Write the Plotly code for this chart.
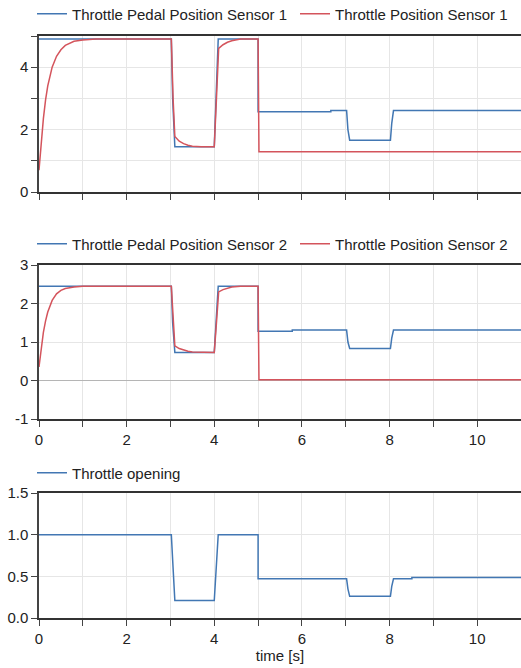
import plotly.graph_objects as go

# ---------------- data ----------------
# Panel 1
t_pps1 = [0, 3.02, 3.05, 3.1, 4.0, 4.05, 4.09, 5.0, 5.0, 6.66, 6.66, 7.02, 7.05, 7.09, 8.02, 8.05, 8.09, 11]
v_pps1 = [4.9, 4.9, 3.0, 1.45, 1.45, 3.2, 4.9, 4.9, 2.57, 2.57, 2.61, 2.61, 2.0, 1.66, 1.66, 2.2, 2.61, 2.61]
t_tps1 = [0, 0.05, 0.1, 0.15, 0.2, 0.3, 0.4, 0.5, 0.6, 0.8, 1.0, 1.3, 3.02, 3.06, 3.1, 3.2, 3.3, 3.4, 3.5, 3.7,
          4.0, 4.05, 4.1, 4.2, 4.3, 4.4, 4.6, 5.0, 5.02, 11]
v_tps1 = [0.7, 1.6, 2.35, 2.95, 3.4, 4.0, 4.35, 4.56, 4.7, 4.83, 4.87, 4.9, 4.9, 3.0, 1.78, 1.63, 1.55, 1.5, 1.47, 1.45,
          1.45, 3.0, 4.6, 4.72, 4.8, 4.85, 4.9, 4.9, 1.29, 1.29]

# Panel 2
t_pps2 = [0, 3.02, 3.05, 3.1, 4.0, 4.05, 4.09, 5.0, 5.0, 5.78, 5.78, 7.02, 7.05, 7.09, 8.02, 8.05, 8.09, 11]
v_pps2 = [2.45, 2.45, 1.5, 0.73, 0.73, 1.6, 2.45, 2.45, 1.28, 1.28, 1.31, 1.31, 1.0, 0.83, 0.83, 1.1, 1.31, 1.31]
t_tps2 = [0, 0.05, 0.1, 0.15, 0.2, 0.3, 0.4, 0.5, 0.6, 0.8, 1.0, 3.02, 3.06, 3.1, 3.2, 3.3, 3.4, 3.5, 3.7,
          4.0, 4.05, 4.1, 4.2, 4.3, 4.4, 4.6, 5.0, 5.02, 11]
v_tps2 = [0.35, 0.85, 1.25, 1.55, 1.78, 2.08, 2.25, 2.34, 2.39, 2.43, 2.45, 2.45, 1.5, 0.9, 0.83, 0.79, 0.76, 0.74, 0.73,
          0.73, 1.5, 2.3, 2.36, 2.4, 2.43, 2.45, 2.45, 0.02, 0.02]

# Panel 3
t_open = [0, 3.02, 3.06, 3.1, 4.0, 4.05, 4.09, 5.0, 5.0, 7.02, 7.05, 7.09, 8.02, 8.05, 8.09, 8.51, 8.51, 11]
v_open = [1.0, 1.0, 0.6, 0.21, 0.21, 0.6, 1.0, 1.0, 0.47, 0.47, 0.35, 0.26, 0.26, 0.38, 0.47, 0.47, 0.485, 0.485]

x_ticks = list(range(0, 12))
x_labels = [str(v) if v % 2 == 0 else "" for v in x_ticks]
y1_ticks = [0, 1, 2, 3, 4, 5]
y1_labels = ["0", "", "2", "", "4", ""]
y2_ticks = [-1, 0, 1, 2, 3]
y2_labels = ["-1", "0", "1", "2", "3"]
y3_ticks = [0, 0.5, 1.0, 1.5]
y3_labels = ["0.0", "0.5", "1.0", "1.5"]

# ---------------- style ----------------
BLUE = "#4277b3"
RED = "#d4545c"
FONT = "Liberation Sans"
W, H = 521, 668
L = 39
PW = W - L

def ydom(top, bottom):
    return [1 - bottom / H, 1 - top / H]

fig = go.Figure()
fig.add_trace(go.Scatter(x=t_pps1, y=v_pps1, mode="lines", name="Throttle Pedal Position Sensor 1",
                         line=dict(color=BLUE, width=1.5), xaxis="x", yaxis="y", legend="legend"))
fig.add_trace(go.Scatter(x=t_tps1, y=v_tps1, mode="lines", name="Throttle Position Sensor 1",
                         line=dict(color=RED, width=1.5), xaxis="x", yaxis="y", legend="legend2"))
fig.add_trace(go.Scatter(x=t_pps2, y=v_pps2, mode="lines", name="Throttle Pedal Position Sensor 2",
                         line=dict(color=BLUE, width=1.5), xaxis="x2", yaxis="y2", legend="legend3"))
fig.add_trace(go.Scatter(x=t_tps2, y=v_tps2, mode="lines", name="Throttle Position Sensor 2",
                         line=dict(color=RED, width=1.5), xaxis="x2", yaxis="y2", legend="legend4"))
fig.add_trace(go.Scatter(x=t_open, y=v_open, mode="lines", name="Throttle opening",
                         line=dict(color=BLUE, width=1.5), xaxis="x3", yaxis="y3", legend="legend5"))

tickfont = dict(family=FONT, size=15, color="#222")
common_x = dict(range=[0, 11], tickvals=x_ticks, ticktext=x_labels, ticks="outside", ticklen=6,
                tickcolor="#444", showline=True, linecolor="#333", linewidth=1.5, mirror=True,
                showgrid=True, gridcolor="#e6e6e6", gridwidth=1, zeroline=False, tickfont=tickfont,
                domain=[0, 1], fixedrange=True, automargin=False)
common_y = dict(ticks="outside", ticklen=6, tickcolor="#444", showline=True, linecolor="#444",
                linewidth=1.5, showgrid=True, gridcolor="#e6e6e6", gridwidth=1, tickfont=tickfont,
                zeroline=False, fixedrange=True, automargin=False)

legfont = dict(family=FONT, size=15, color="#222")
def leg(xpx, ycen):
    return dict(orientation="h", x=(xpx - 7 - L) / PW, xanchor="left", y=1 - ycen / H, yanchor="middle",
                font=legfont, bgcolor="rgba(0,0,0,0)", borderwidth=0, itemwidth=30, visible=True)

fig.update_layout(
    width=W, height=H,
    showlegend=True,
    margin=dict(l=L, r=0, t=0, b=0, autoexpand=False),
    paper_bgcolor="white", plot_bgcolor="white",
    font=dict(family=FONT, size=15, color="#222"),
    xaxis=dict(**common_x, anchor="y", showticklabels=False),
    yaxis=dict(**common_y, anchor="x", domain=ydom(36, 192), range=[0, 5],
               tickvals=y1_ticks, ticktext=y1_labels),
    xaxis2=dict(**common_x, anchor="y2"),
    yaxis2=dict(**{**common_y, "zeroline": True}, zerolinecolor="#b5b5b5", zerolinewidth=1,
                anchor="x2", domain=ydom(265, 419), range=[-1, 3],
                tickvals=y2_ticks, ticktext=y2_labels),
    xaxis3=dict(**common_x, anchor="y3",
                title=dict(text="time [s]", font=dict(family=FONT, size=15, color="#222"), standoff=4)),
    yaxis3=dict(**common_y, anchor="x3", domain=ydom(493, 618), range=[0, 1.5],
                tickvals=y3_ticks, ticktext=y3_labels),
    legend=leg(39, 14),
    legend2=leg(302, 14),
    legend3=leg(39, 244),
    legend4=leg(302, 244),
    legend5=leg(39, 473),
)

fig.write_html("out.html")
